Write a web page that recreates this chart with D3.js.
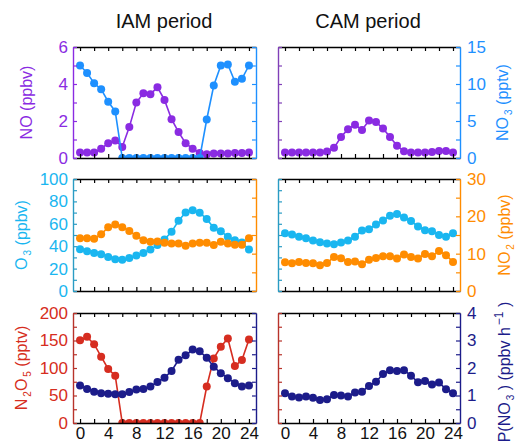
<!DOCTYPE html>
<html lang="en">
<head>
<meta charset="UTF-8"/>
<title>IAM vs CAM diurnal profiles</title>
<script src="https://d3js.org/d3.v7.min.js"></script>
<style>
  body { margin: 0; background: #fff; }
  svg text { font-family: "Liberation Sans", Arial, Helvetica, sans-serif; }
</style>
</head>
<body>
<div id="chart"></div>
<script>
// hour of day
var hours = [0,1,2,3,4,5,6,7,8,9,10,11,12,13,14,15,16,17,18,19,20,21,22,23,24];
var hourTicks = [0,2,4,6,8,10,12,14,16,18,20,22,24];
var hourLabels = [0,4,8,12,16,20,24];

// IAM period
var iamNO   = [0.3,0.3,0.3,0.5,0.8,0.95,0.6,1.67,3.0,3.5,3.45,3.82,3.14,2.1,1.4,0.8,0.5,0.27,0.2,0.25,0.25,0.25,0.27,0.27,0.3];
var iamNO3  = [12.5,11.5,10.1,9.3,7.6,6.3,0,0,0,0,0,0,0,0,0,0,0,0,5.2,9.8,12.5,12.65,10.3,10.7,12.5];
var iamO3   = [37.3,35.5,34,32.8,30.4,28.4,28,29.5,31.6,34,37,41,46,52.8,62.7,70.1,72.2,69.9,64.2,56.4,53.4,48.4,45.4,43.3,37];
var iamNO2  = [14.1,14.1,14,15.2,17.1,17.8,17.1,16.1,14.8,13.6,13.2,13.25,12.9,12.7,12.7,12.1,12.7,12.9,12.9,12.35,13.2,12.7,12.4,12.4,14.1];
var iamN2O5 = [150.6,156.6,143.4,120.5,98.2,86.1,0,0,0,0,0,0,0,0,0,0,0,0,66.3,117.5,138.6,153.6,103.6,114.5,151.8];
var iamPNO3 = [1.36,1.24,1.14,1.08,1.06,1.05,1.05,1.13,1.22,1.24,1.33,1.49,1.65,1.89,2.3,2.46,2.67,2.61,2.37,2.05,1.81,1.63,1.45,1.33,1.36];

// CAM period
var camNO   = [0.3,0.3,0.3,0.3,0.3,0.3,0.35,0.55,1.13,1.56,1.8,1.52,2.03,1.94,1.6,1.13,0.66,0.36,0.3,0.3,0.3,0.32,0.38,0.38,0.3];
var camO3   = [51.6,50.4,48.4,47.2,45.1,43.6,42.4,41.8,43.3,45.1,48.4,54,55.2,59.4,63,67.2,68.7,65.7,62.4,57.6,54.3,53.4,49.9,48.4,51.6];
var camNO2  = [7.7,7.43,7.8,7.5,7.43,6.9,7.5,9.13,8.77,7.8,7.9,7.16,8.4,8.86,9.3,9.3,8.7,9.76,9.13,8.7,9.94,9.3,10.74,9.6,7.8];
var camPNO3 = [1.08,0.96,0.93,0.96,0.92,0.84,0.86,1.02,1.0,0.96,1.11,1.14,1.35,1.5,1.78,1.92,1.89,1.92,1.72,1.48,1.53,1.4,1.47,1.23,1.08];

// axis ticks
var noTicks = [0,2,4,6],        noMinor = [1,3,5];
var no3Ticks = [0,5,10,15],     no3Minor = [2.5,7.5,12.5];
var o3Ticks = [0,20,40,60,80,100], o3Minor = [10,30,50,70,90];
var no2Ticks = [0,10,20,30],    no2Minor = [5,15,25];
var n2o5Ticks = [0,50,100,150,200], n2o5Minor = [25,75,125,175];
var pno3Ticks = [0,1,2,3,4],    pno3Minor = [0.5,1.5,2.5,3.5];

var purple = "#8a2be2", blue = "#1e90ff", sky = "#1ab6f0", skyAxis = "#2a9cc4",
    orange = "#ff8c00", red = "#d62d20", redAxis = "#b8332b", navy = "#1c1c8a";

var w = 515, h = 443;
var cols = [{x0: 73, x1: 256}, {x0: 278, x1: 460}];
var rows = [{y0: 47, y1: 158}, {y0: 179, y1: 291}, {y0: 313, y1: 423}];

var svg = d3.select("#chart").append("svg")
  .attr("width", w)
  .attr("height", h);

svg.append("text").attr("x", 164).attr("y", 28).attr("text-anchor", "middle")
  .attr("font-size", 20).attr("fill", "#111").text("IAM period");
svg.append("text").attr("x", 368).attr("y", 28).attr("text-anchor", "middle")
  .attr("font-size", 20).attr("fill", "#111").text("CAM period");

var clipId = 0;

function styleAxis(g, color, labelColor) {
  g.attr("font-size", 17);
  g.select(".domain").attr("stroke", color).attr("stroke-width", 1.4);
  g.selectAll(".tick line").attr("stroke", color).attr("stroke-width", 1.2);
  g.selectAll(".tick text").attr("fill", labelColor || color);
}

function panel(c, r, opt) {
  var x0 = cols[c].x0, x1 = cols[c].x1, y0 = rows[r].y0, y1 = rows[r].y1;
  var x = d3.scaleLinear().domain([-1, 25]).range([x0, x1]);
  var yL = d3.scaleLinear().domain(opt.left.domain).range([y1, y0]);
  var yR = d3.scaleLinear().domain(opt.right.domain).range([y1, y0]);

  var id = "clip" + (clipId++);
  svg.append("clipPath").attr("id", id).append("rect")
    .attr("x", x0).attr("y", y0).attr("width", x1 - x0).attr("height", y1 - y0);
  var plot = svg.append("g").attr("clip-path", "url(#" + id + ")");

  opt.series.forEach(function(s) {
    var y = s.axis == "left" ? yL : yR;
    var line = d3.line().x(function(d, i) { return x(hours[i]); }).y(function(d) { return y(d); });
    plot.append("path").datum(s.values)
      .attr("d", line).attr("fill", "none").attr("stroke", s.color).attr("stroke-width", 1.6);
    plot.selectAll(null).data(s.values).enter().append("circle")
      .attr("cx", function(d, i) { return x(hours[i]); })
      .attr("cy", function(d) { return y(d); })
      .attr("r", 4)
      .attr("fill", s.color);
  });

  // x axes (top + bottom), ticks inward
  var top = svg.append("g").attr("transform", "translate(0," + y0 + ")")
    .call(d3.axisTop(x).tickValues(hourTicks).tickSize(-4).tickSizeOuter(0).tickFormat(""));
  styleAxis(top, "#000");
  var bottom = svg.append("g").attr("transform", "translate(0," + y1 + ")")
    .call(d3.axisBottom(x).tickValues(hourTicks).tickSize(-4).tickSizeOuter(0).tickPadding(4)
      .tickFormat(function(d) { return (r == 2 && hourLabels.indexOf(d) >= 0) ? d : ""; }));
  styleAxis(bottom, "#000", "#111");

  // left y axis
  var showL = c == 0, showR = c == 1;
  var gl = svg.append("g").attr("transform", "translate(" + x0 + ",0)")
    .call(d3.axisLeft(yL).tickValues(opt.left.ticks.concat(opt.left.minor)).tickSize(-4).tickSizeOuter(0)
      .tickPadding(5)
      .tickFormat(function(d) { return (showL && opt.left.ticks.indexOf(d) >= 0) ? d : ""; }));
  styleAxis(gl, opt.left.axisColor || opt.left.color, opt.left.color);

  var gr = svg.append("g").attr("transform", "translate(" + x1 + ",0)")
    .call(d3.axisRight(yR).tickValues(opt.right.ticks.concat(opt.right.minor)).tickSize(-4).tickSizeOuter(0)
      .tickPadding(7)
      .tickFormat(function(d) { return (showR && opt.right.ticks.indexOf(d) >= 0) ? d : ""; }));
  styleAxis(gr, opt.right.axisColor || opt.right.color, opt.right.color);

  var cy = (y0 + y1) / 2;
  if (showL) axisTitle(opt.left.titleX, cy, opt.left.title, opt.left.color);
  if (showR) axisTitle(opt.right.titleX, opt.right.titleY || cy, opt.right.title, opt.right.color);
}

// title parts: plain strings, {sub: ".."} or {sup: ".."}
function axisTitle(tx, ty, parts, color) {
  var t = svg.append("text")
    .attr("transform", "translate(" + tx + "," + ty + ") rotate(-90)")
    .attr("text-anchor", "middle")
    .attr("font-size", 16)
    .attr("fill", color);
  var shift = 0;
  parts.forEach(function(p) {
    var ts = t.append("tspan");
    if (typeof p == "string") {
      ts.attr("dy", -shift).text(p);
      shift = 0;
    } else if (p.sub) {
      ts.attr("dy", 4 - shift).attr("dx", 2).attr("font-size", 10).text(p.sub);
      shift = 4;
    } else {
      ts.attr("dy", -7 - shift).attr("dx", 2).attr("font-size", 12).text(p.sup);
      shift = -7;
    }
  });
}

panel(0, 0, {
  left:  {domain: [0, 6], ticks: noTicks, minor: noMinor, color: purple, title: ["NO (ppbv)"], titleX: 32},
  right: {domain: [0, 15], ticks: no3Ticks, minor: no3Minor, color: blue},
  series: [{values: iamNO, color: purple, axis: "left"}, {values: iamNO3, color: blue, axis: "right"}]
});
panel(1, 0, {
  left:  {domain: [0, 6], ticks: noTicks, minor: noMinor, color: purple, axisColor: "#8040b8"},
  right: {domain: [0, 15], ticks: no3Ticks, minor: no3Minor, color: blue,
          title: ["NO", {sub: "3"}, "  (pptv)"], titleX: 508},
  series: [{values: camNO, color: purple, axis: "left"}]
});
panel(0, 1, {
  left:  {domain: [0, 100], ticks: o3Ticks, minor: o3Minor, color: sky, axisColor: skyAxis,
          title: ["O", {sub: "3"}, "  (ppbv)"], titleX: 27},
  right: {domain: [0, 30], ticks: no2Ticks, minor: no2Minor, color: orange},
  series: [{values: iamO3, color: sky, axis: "left"}, {values: iamNO2, color: orange, axis: "right"}]
});
panel(1, 1, {
  left:  {domain: [0, 100], ticks: o3Ticks, minor: o3Minor, color: sky, axisColor: skyAxis},
  right: {domain: [0, 30], ticks: no2Ticks, minor: no2Minor, color: orange,
          title: ["NO", {sub: "2"}, "  (ppbv)"], titleX: 510},
  series: [{values: camO3, color: sky, axis: "left"}, {values: camNO2, color: orange, axis: "right"}]
});
panel(0, 2, {
  left:  {domain: [0, 200], ticks: n2o5Ticks, minor: n2o5Minor, color: red, axisColor: redAxis,
          title: ["N", {sub: "2"}, "O", {sub: "5"}, "  (pptv)"], titleX: 27},
  right: {domain: [0, 4], ticks: pno3Ticks, minor: pno3Minor, color: navy},
  series: [{values: iamN2O5, color: red, axis: "left"}, {values: iamPNO3, color: navy, axis: "right"}]
});
panel(1, 2, {
  left:  {domain: [0, 200], ticks: n2o5Ticks, minor: n2o5Minor, color: red, axisColor: redAxis},
  right: {domain: [0, 4], ticks: pno3Ticks, minor: pno3Minor, color: navy,
          title: ["P(NO", {sub: "3"}, " )  (ppbv h", {sup: "\u22121"}, " )"], titleX: 510, titleY: 372},
  series: [{values: camPNO3, color: navy, axis: "right"}]
});
</script>
</body>
</html>
